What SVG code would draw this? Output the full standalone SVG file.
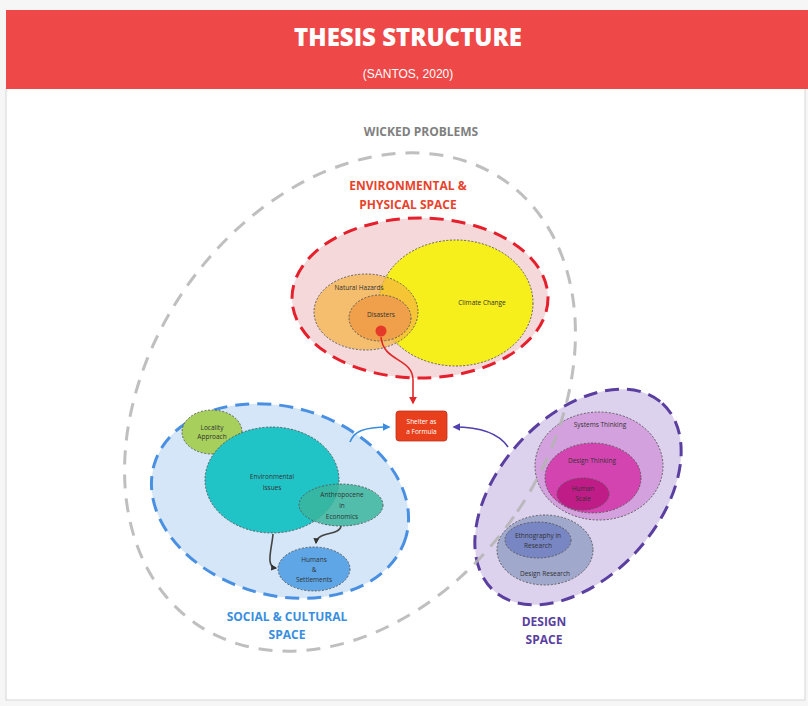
<svg xmlns="http://www.w3.org/2000/svg" width="808" height="706" viewBox="0 0 808 706">
<style>
.lbl{font-family:"Open Sans","Liberation Sans",sans-serif;font-size:6.5px;fill:#333;text-anchor:middle}
.sec{font-family:"Open Sans","Liberation Sans",sans-serif;font-size:12px;font-weight:700;text-anchor:middle}
.dot{stroke:#555;stroke-width:0.9;stroke-dasharray:2 1.6}
.conn{fill:none;stroke-width:1.6}
</style>
<defs>
<marker id="aRed" viewBox="0 0 10 10" refX="8" refY="5" markerWidth="8" markerHeight="8" markerUnits="userSpaceOnUse" orient="auto"><path d="M0,0 L10,5 L0,10 z" fill="#e0282a"/></marker>
<marker id="aBlue" viewBox="0 0 10 10" refX="8" refY="5" markerWidth="8" markerHeight="8" markerUnits="userSpaceOnUse" orient="auto"><path d="M0,0 L10,5 L0,10 z" fill="#3a8ee0"/></marker>
<marker id="aPurple" viewBox="0 0 10 10" refX="8" refY="5" markerWidth="8" markerHeight="8" markerUnits="userSpaceOnUse" orient="auto"><path d="M0,0 L10,5 L0,10 z" fill="#5040b0"/></marker>
<marker id="aDark" viewBox="0 0 10 10" refX="8" refY="5" markerWidth="6" markerHeight="6" markerUnits="userSpaceOnUse" orient="auto"><path d="M0,0 L10,5 L0,10 z" fill="#333"/></marker>
</defs>
<rect width="808" height="706" fill="#f6f6f6"/>
<rect x="6" y="88" width="799" height="612" fill="#ffffff" stroke="#d6d6d6" stroke-width="1"/>
<g id="header">
<rect x="6" y="10" width="802" height="79" fill="#ef4848"/>
<text x="408" y="46" font-family="'Open Sans','Liberation Sans',sans-serif" font-size="24" font-weight="800" fill="#ffffff" text-anchor="middle">THESIS STRUCTURE</text>
<text x="408" y="78" font-family="'Liberation Sans','Open Sans',sans-serif" font-size="12" fill="#ffffff" text-anchor="middle">(SANTOS, 2020)</text>
</g>
<text class="sec" x="421" y="136" fill="#808080">WICKED PROBLEMS</text>

<g id="env-space">
<ellipse cx="420" cy="298" rx="128" ry="80" fill="#f4d8da" stroke="#e5202c" stroke-width="3" stroke-dasharray="14 8"/>
<text class="sec" x="408" y="190" fill="#e8432c">ENVIRONMENTAL &amp;</text>
<text class="sec" x="408" y="209" fill="#e8432c">PHYSICAL SPACE</text>
</g>
<g id="climate-change">
<ellipse class="dot" cx="456" cy="303" rx="77" ry="63" fill="#f7ef1c"/>
<text class="lbl" x="482" y="305">Climate Change</text>
</g>
<g id="natural-hazards">
<ellipse class="dot" cx="366" cy="312" rx="52" ry="38" fill="#f5b340" fill-opacity="0.7"/>
<text class="lbl" x="359" y="290">Natural Hazards</text>
</g>
<g id="disasters">
<ellipse class="dot" cx="380" cy="318" rx="31" ry="23" fill="#f0a04a"/>
<text class="lbl" x="381" y="317">Disasters</text>
<circle cx="381" cy="331" r="5.5" fill="#e53a2a"/>
</g>

<g id="social-space">
<ellipse cx="280" cy="501" rx="131" ry="94" transform="rotate(16 280 501)" fill="#d4e6f7" stroke="#4a90e2" stroke-width="3" stroke-dasharray="14 8"/>
<text class="sec" x="287" y="621" fill="#3a8ee0">SOCIAL &amp; CULTURAL</text>
<text class="sec" x="287" y="639" fill="#3a8ee0">SPACE</text>
</g>
<g id="locality-approach">
<ellipse class="dot" cx="212" cy="432" rx="30" ry="22" fill="#a6cf5c"/>
<text class="lbl" x="212" y="430">Locality</text>
<text class="lbl" x="212" y="439">Approach</text>
</g>
<g id="environmental-issues">
<ellipse class="dot" cx="272" cy="480" rx="67" ry="53" fill="#21c4c6"/>
<text class="lbl" x="272" y="479">Environmental</text>
<text class="lbl" x="272" y="490">Issues</text>
</g>
<g id="anthropocene">
<ellipse class="dot" cx="341" cy="505" rx="42" ry="21" fill="#39b59c" fill-opacity="0.85"/>
<text class="lbl" x="342" y="497">Anthropocene</text>
<text class="lbl" x="342" y="508">in</text>
<text class="lbl" x="342" y="519">Economics</text>
</g>
<g id="humans-settlements">
<ellipse class="dot" cx="314" cy="569" rx="36" ry="22" fill="#5ea6e6"/>
<text class="lbl" x="314" y="562">Humans</text>
<text class="lbl" x="314" y="572">&amp;</text>
<text class="lbl" x="314" y="582">Settlements</text>
</g>

<g id="design-space">
<ellipse cx="578" cy="497" rx="126" ry="80" transform="rotate(-48 578 497)" fill="#ddd2ee" stroke="#5a3fa0" stroke-width="3" stroke-dasharray="14 8"/>
<text class="sec" x="544" y="626" fill="#5a3fa0">DESIGN</text>
<text class="sec" x="544" y="644" fill="#5a3fa0">SPACE</text>
</g>
<g id="systems-thinking">
<ellipse class="dot" cx="599" cy="466" rx="64" ry="54" fill="#d3a2de"/>
<text class="lbl" x="600" y="427">Systems Thinking</text>
</g>
<g id="design-thinking">
<ellipse class="dot" cx="593" cy="478" rx="48" ry="35" fill="#d444b0"/>
<text class="lbl" x="592" y="463">Design Thinking</text>
</g>
<g id="human-scale">
<ellipse class="dot" cx="583" cy="494" rx="26" ry="16" fill="#bf1c88"/>
<text class="lbl" x="583" y="491">Human</text>
<text class="lbl" x="583" y="501">Scale</text>
</g>
<g id="design-research">
<ellipse class="dot" cx="545" cy="550" rx="48" ry="35" fill="#a0a8cc"/>
<text class="lbl" x="545" y="576">Design Research</text>
</g>
<g id="ethnography">
<ellipse class="dot" cx="538" cy="540" rx="33" ry="18" fill="#7886c4"/>
<text class="lbl" x="538" y="538">Ethnography in</text>
<text class="lbl" x="538" y="548">Research</text>
</g>

<g id="shelter">
<rect x="396" y="411" width="51" height="30" rx="3" fill="#e8401c" stroke="#c0301a" stroke-width="0.8"/>
<text class="lbl" x="421.5" y="424" style="fill:#ffffff">Shelter as</text>
<text class="lbl" x="421.5" y="434" style="fill:#ffffff">a Formula</text>
</g>

<g id="wicked-problems">
<ellipse cx="350" cy="402" rx="200" ry="270" transform="rotate(35 350 402)" fill="none" stroke="#b4b4b4" stroke-width="3" stroke-dasharray="14 10" stroke-opacity="0.85"/>
</g>

<g id="connectors">
<path class="conn" d="M381,337 C383,362 413,358 413,380 L413,403" stroke="#e0282a" marker-end="url(#aRed)"/>
<path class="conn" d="M350,442 C354,432 362,427 389,427" stroke="#3a8ee0" marker-end="url(#aBlue)"/>
<path class="conn" d="M508,447 C498,432 478,427 454,427" stroke="#5040b0" marker-end="url(#aPurple)"/>
<path class="conn" d="M273,534 C272,548 265,567 276,568" stroke="#444" stroke-width="1" marker-end="url(#aDark)"/>
<path class="conn" d="M341,526 C340,536 317,531 316,543" stroke="#444" stroke-width="1" marker-end="url(#aDark)"/>
</g>
</svg>
